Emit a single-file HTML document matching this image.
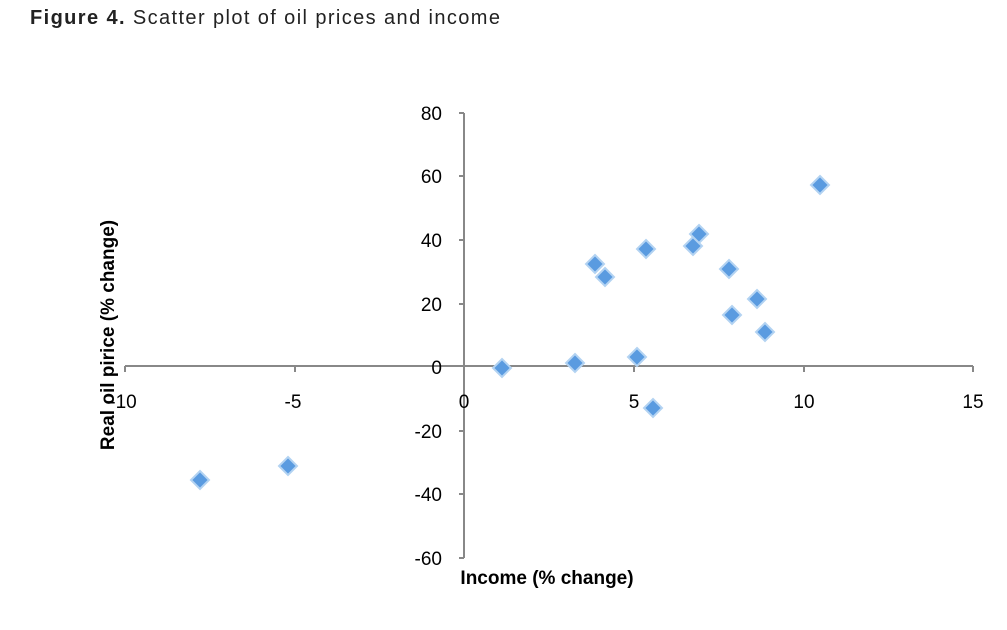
<!DOCTYPE html>
<html><head><style>
body{margin:0;background:#fff;width:1007px;height:630px;overflow:hidden}
svg{display:block}
</style></head><body>
<svg width="1007" height="630" xmlns="http://www.w3.org/2000/svg" font-family="Liberation Sans, sans-serif">
<text x="30" y="24" font-size="20" fill="#222" textLength="470" lengthAdjust="spacing"><tspan font-weight="bold">Figure 4.</tspan> Scatter plot of oil prices and income</text>
<g stroke="#888" stroke-width="2" fill="none">
<line x1="464" y1="113" x2="464" y2="558"/>
<line x1="125" y1="366" x2="973" y2="366"/>
<path d="M459 113H464M459 176H464M459 240H464M459 304H464M459 431H464M459 494H464M459 558H464"/>
<path d="M125 366V372M295 366V372M634 366V372M804 366V372M973 366V372"/>
</g>
<g font-size="19" fill="#000" text-anchor="end">
<text x="442" y="120">80</text><text x="442" y="183">60</text><text x="442" y="247">40</text><text x="442" y="311">20</text><text x="442" y="374">0</text><text x="442" y="438">-20</text><text x="442" y="501">-40</text><text x="442" y="565">-60</text>
</g>
<g font-size="19" fill="#000" text-anchor="middle">
<text x="123" y="408">-10</text><text x="293" y="408">-5</text><text x="464" y="408">0</text><text x="634" y="408">5</text><text x="804" y="408">10</text><text x="973" y="408">15</text>
</g>
<text x="547" y="584" font-size="19" font-weight="bold" text-anchor="middle">Income (% change)</text>
<text transform="translate(114,335) rotate(-90)" font-size="19" font-weight="bold" text-anchor="middle">Real oil pirice (% change)</text>
<g fill="#5a9be0" stroke="#b3d3f2" stroke-width="2">
<path d="M0 -9L9 0L0 9L-9 0Z" transform="translate(200,480)"/>
<path d="M0 -9L9 0L0 9L-9 0Z" transform="translate(288,466)"/>
<path d="M0 -9L9 0L0 9L-9 0Z" transform="translate(502,368)"/>
<path d="M0 -9L9 0L0 9L-9 0Z" transform="translate(575,363)"/>
<path d="M0 -9L9 0L0 9L-9 0Z" transform="translate(595,264)"/>
<path d="M0 -9L9 0L0 9L-9 0Z" transform="translate(605,277)"/>
<path d="M0 -9L9 0L0 9L-9 0Z" transform="translate(637,357)"/>
<path d="M0 -9L9 0L0 9L-9 0Z" transform="translate(646,249)"/>
<path d="M0 -9L9 0L0 9L-9 0Z" transform="translate(653,408)"/>
<path d="M0 -9L9 0L0 9L-9 0Z" transform="translate(693,246)"/>
<path d="M0 -9L9 0L0 9L-9 0Z" transform="translate(699,234)"/>
<path d="M0 -9L9 0L0 9L-9 0Z" transform="translate(729,269)"/>
<path d="M0 -9L9 0L0 9L-9 0Z" transform="translate(732,315)"/>
<path d="M0 -9L9 0L0 9L-9 0Z" transform="translate(757,299)"/>
<path d="M0 -9L9 0L0 9L-9 0Z" transform="translate(765,332)"/>
<path d="M0 -9L9 0L0 9L-9 0Z" transform="translate(820,185)"/>
</g>
</svg>
</body></html>
